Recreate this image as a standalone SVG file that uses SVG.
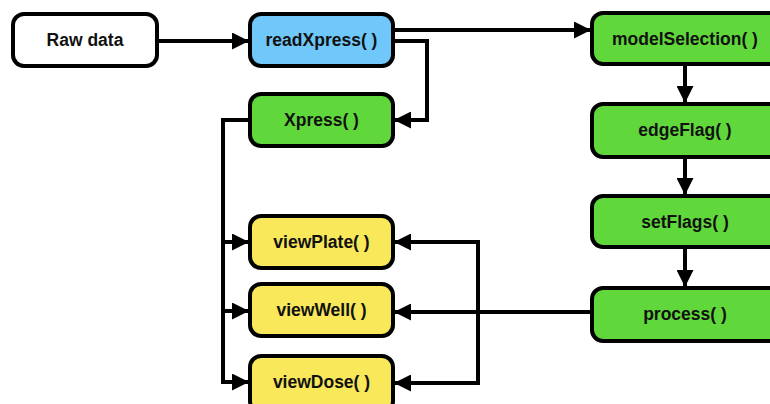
<svg xmlns="http://www.w3.org/2000/svg" width="770" height="404" viewBox="0 0 770 404">
<style>
.box{stroke:#000;stroke-width:4}
.white{fill:#fff}.blue{fill:#6fc8f9}.green{fill:#60d83b}.yellow{fill:#f8e85a}
text{font-family:"Liberation Sans",Arial,sans-serif;font-weight:bold;font-size:17.5px;text-anchor:middle;dominant-baseline:central;fill:#111}
.c{fill:none;stroke:#000;stroke-width:4;stroke-linejoin:miter}
</style>
<defs>
<marker id="ah" markerUnits="userSpaceOnUse" markerWidth="17" markerHeight="17" refX="16" refY="8.5" orient="auto">
<path d="M0,0 L17,8.5 L0,17 Z" fill="#000"/>
</marker>
</defs>
<rect width="770" height="404" fill="#fff"/>
<g id="connectors">
<path class="c" d="M157,41 H248" marker-end="url(#ah)"/>
<path class="c" d="M393,30 H590" marker-end="url(#ah)"/>
<path class="c" d="M393,41 H427 V120 H395" marker-end="url(#ah)"/>
<path class="c" d="M250,120 H223 V382"/>
<path class="c" d="M223,242 H248" marker-end="url(#ah)"/>
<path class="c" d="M223,311 H248" marker-end="url(#ah)"/>
<path class="c" d="M221,382 H248" marker-end="url(#ah)"/>
<path class="c" d="M685,64 V102" marker-end="url(#ah)"/>
<path class="c" d="M685,157 V194" marker-end="url(#ah)"/>
<path class="c" d="M685,247 V286" marker-end="url(#ah)"/>
<path class="c" d="M592,312 H395" marker-end="url(#ah)"/>
<path class="c" d="M478,312 V242 H395" marker-end="url(#ah)"/>
<path class="c" d="M478,312 V383 H395" marker-end="url(#ah)"/>
</g>
<g id="rawdata"><rect class="box white" x="13" y="14" width="144" height="52" rx="11"/><text x="85" y="40">Raw data</text></g>
<g id="readXpress"><rect class="box blue" x="250" y="14" width="143" height="52" rx="11"/><text x="321.5" y="40">readXpress( )</text></g>
<g id="Xpress"><rect class="box green" x="250" y="94" width="143" height="52" rx="11"/><text x="321.5" y="120">Xpress( )</text></g>
<g id="viewPlate"><rect class="box yellow" x="250" y="216" width="143" height="52" rx="11"/><text x="321.5" y="242">viewPlate( )</text></g>
<g id="viewWell"><rect class="box yellow" x="250" y="284" width="143" height="52" rx="11"/><text x="321.5" y="310">viewWell( )</text></g>
<g id="viewDose"><rect class="box yellow" x="250" y="356" width="143" height="56" rx="11"/><text x="321.5" y="382">viewDose( )</text></g>
<g id="modelSelection"><rect class="box green" x="592" y="13" width="190" height="51" rx="11"/><text x="685" y="39">modelSelection( )</text></g>
<g id="edgeFlag"><rect class="box green" x="592" y="104" width="190" height="53" rx="11"/><text x="685" y="130">edgeFlag( )</text></g>
<g id="setFlags"><rect class="box green" x="592" y="196" width="190" height="51" rx="11"/><text x="685" y="222">setFlags( )</text></g>
<g id="process"><rect class="box green" x="592" y="288" width="190" height="53" rx="11"/><text x="685" y="314">process( )</text></g>
</svg>
